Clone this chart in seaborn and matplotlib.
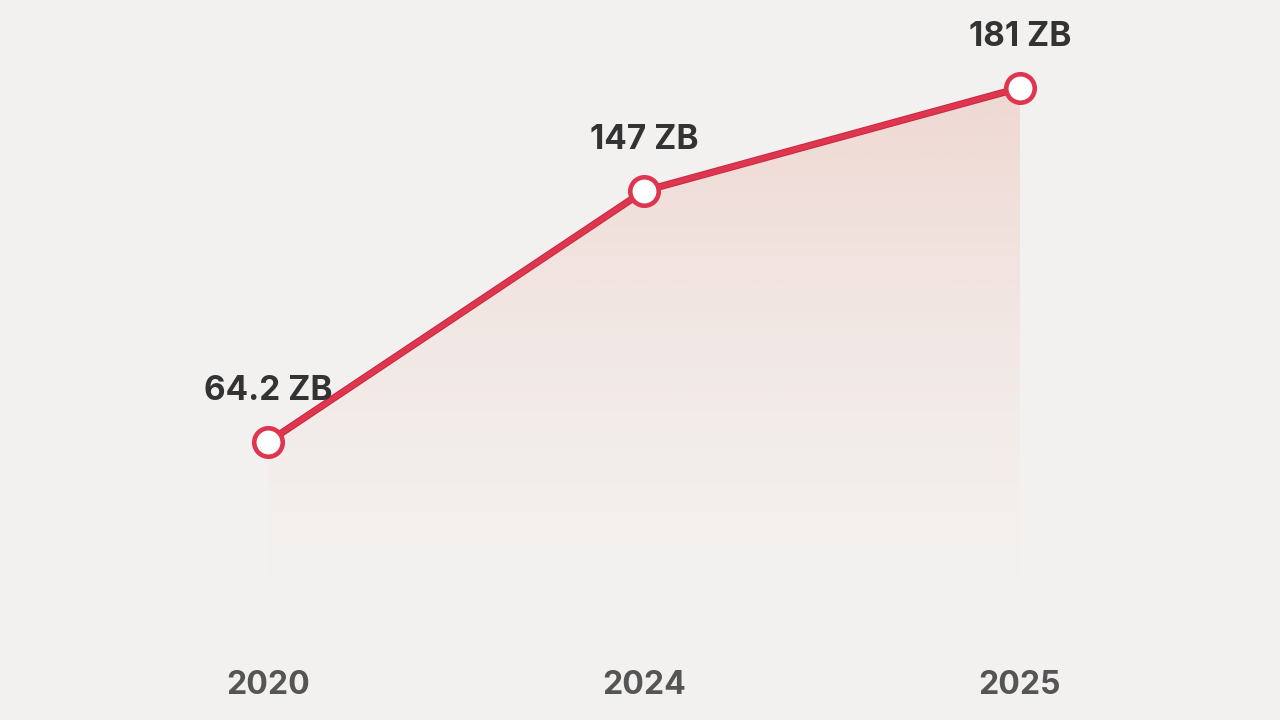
import numpy as np
import pandas as pd
import matplotlib
matplotlib.use("Agg")
import matplotlib.pyplot as plt
import seaborn as sns

years = ["2020", "2024", "2025"]
values = [64.2, 147, 181]
labels = ["64.2 ZB", "147 ZB", "181 ZB"]

sns.set_theme(style="white")
plt.rcParams["font.family"] = ["Inter", "DejaVu Sans"]

BG = "#f3f1ef"
RED = "#e0354f"

df = pd.DataFrame({"year": years, "value": values, "pos": np.arange(len(years))})

fig = plt.figure(figsize=(12.8, 7.2), dpi=100, facecolor=BG)
ax = fig.add_axes([0, 0, 1, 1])
ax.set_facecolor(BG)

ax.set_xlim(-0.7128, 2.6915)
ax.set_ylim(-27.5, 210.0)

# gradient fill under the line
x = df["pos"].to_numpy()
y = df["value"].to_numpy()
poly = ax.fill_between(x, y, 12, color="none", lw=0)
path = poly.get_paths()[0]
top, bot = 185, 12
n = 256
grad = np.zeros((n, 2, 4))
c = matplotlib.colors.to_rgb("#e79a8c")
grad[..., 0], grad[..., 1], grad[..., 2] = c
alphas = np.linspace(0.42, 0.0, n) ** 1.4
grad[..., 3] = alphas[:, None]
im = ax.imshow(grad, extent=[x.min(), x.max(), bot, top], origin="upper",
               aspect="auto", zorder=1, interpolation="bilinear")
im.set_clip_path(path, transform=ax.transData)

# line
ax.plot(x, y, color="#c42a40", lw=5.2, zorder=2.9, solid_capstyle="round")
sns.lineplot(data=df, x="pos", y="value", ax=ax, color=RED, lw=3.8,
             zorder=3, solid_capstyle="round")
ax.scatter(x, y, s=420, facecolor="white", edgecolor=RED, linewidth=3.3, zorder=4)

for xi, yi, lab in zip(x, y, labels):
    ax.text(xi, yi + 16.8, lab, ha="center", va="center", fontsize=24,
            fontweight="bold", color="#333333", zorder=5)

for xi, yr in zip(x, years):
    ax.text(xi, -16.0, yr, ha="center", va="center", fontsize=23,
            fontweight="bold", color="#555555")

ax.set_axis_off()
fig.savefig("out.png", dpi=100, facecolor=BG)
